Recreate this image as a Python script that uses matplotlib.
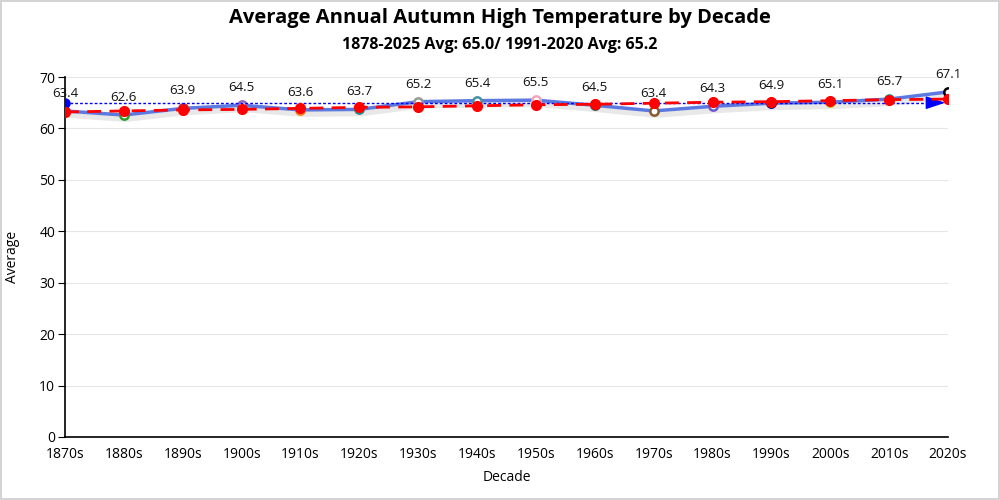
import matplotlib
matplotlib.use("Agg")
import matplotlib.pyplot as plt
import matplotlib.patheffects as pe
from matplotlib.patches import Rectangle

decades = ["1870s", "1880s", "1890s", "1900s", "1910s", "1920s", "1930s", "1940s",
           "1950s", "1960s", "1970s", "1980s", "1990s", "2000s", "2010s", "2020s"]
averages = [63.4, 62.6, 63.9, 64.5, 63.6, 63.7, 65.2, 65.4, 65.5, 64.5, 63.4, 64.3,
            64.9, 65.1, 65.7, 67.1]
trend = [63.2, 63.4, 63.6, 63.7, 63.9, 64.1, 64.2, 64.4, 64.6, 64.7, 64.9, 65.1,
         65.2, 65.4, 65.6, 65.7]
long_avg = 65.0
marker_colors = ["#1f77b4", "#2ca02c", "#d62728", "#9467bd", "#ff7f0e", "#2a8c8c",
                 "#999999", "#4a90a4", "#f4a6b8", "#2f4f4f", "#8b5a2b", "#6a5acd",
                 "#000080", "#c8c800", "#20b2aa", "#000000"]
title = "Average Annual Autumn High Temperature by Decade"
subtitle = "1878-2025 Avg: 65.0/ 1991-2020 Avg: 65.2"

plt.rcParams['font.family'] = ['Open Sans', 'DejaVu Sans']

fig = plt.figure(figsize=(10, 5), dpi=100)
ax = fig.add_axes([0.065, 0.126, 0.883, 0.72])
x = list(range(len(decades)))

shadow_l = [pe.SimpleLineShadow(offset=(1.5, -3), shadow_color='gray', alpha=0.18, linewidth=4), pe.Normal()]

ax.plot(x, averages, color="#5b79e0", linewidth=2.5, zorder=3, path_effects=shadow_l)
for xi, yi, c in zip(x, averages, marker_colors):
    ax.plot(xi, yi, marker='o', markersize=6, markerfacecolor='white',
            markeredgecolor=c, markeredgewidth=1.8, zorder=4, linestyle='none')
    ax.annotate(f"{yi:.1f}", (xi, yi), xytext=(0, 8), textcoords='offset points',
                ha='center', va='bottom', fontsize=9.5, color='#111111', zorder=6)

# long-term average with arrow
ax.plot([x[0], x[-1] - 0.3], [long_avg, long_avg], color='blue', linestyle=(0, (2, 1.5)),
        linewidth=1, zorder=4)
ax.plot(x[0], long_avg, marker='o', markersize=6.5, color='blue', zorder=5)
ax.annotate("", xy=(x[-1], long_avg), xytext=(x[-1] - 0.35, long_avg),
            arrowprops=dict(arrowstyle='-|>,head_length=1.2,head_width=0.4',
                            color='blue', lw=1), zorder=5)

# trend line
ax.plot(x, trend, color='red', linestyle=(0, (5, 3)), linewidth=2, zorder=5)
ax.plot(x, trend, marker='o', markersize=7, color='red', linestyle='none', zorder=5)

ax.set_xlim(0, len(decades) - 1)
ax.set_ylim(0, 70)
ax.set_xticks(x)
ax.set_xticklabels(decades, fontsize=10)
ax.set_yticks(range(0, 71, 10))
ax.tick_params(axis='y', labelsize=10, length=5, pad=2)
ax.tick_params(axis='x', length=0, pad=7)
ax.grid(axis='y', color='#e6e6e6', linewidth=0.8)
ax.set_axisbelow(True)
for s in ['top', 'right']:
    ax.spines[s].set_visible(False)
ax.spines['left'].set_linewidth(1.2)
ax.spines['bottom'].set_linewidth(1.2)
ax.set_xlabel("Decade", fontsize=10, labelpad=6)
ax.set_ylabel("Average", fontsize=10, labelpad=14)

fig.text(0.5, 0.965, title, ha='center', va='center', fontsize=14.5, fontweight='bold')
fig.text(0.5, 0.91, subtitle, ha='center', va='center', fontsize=11.5, fontweight='bold')

fig.patches.append(Rectangle((0.001, 0.002), 0.998, 0.996, transform=fig.transFigure,
                             fill=False, edgecolor='#cccccc', linewidth=1.2))

fig.savefig("out.png", dpi=100)
